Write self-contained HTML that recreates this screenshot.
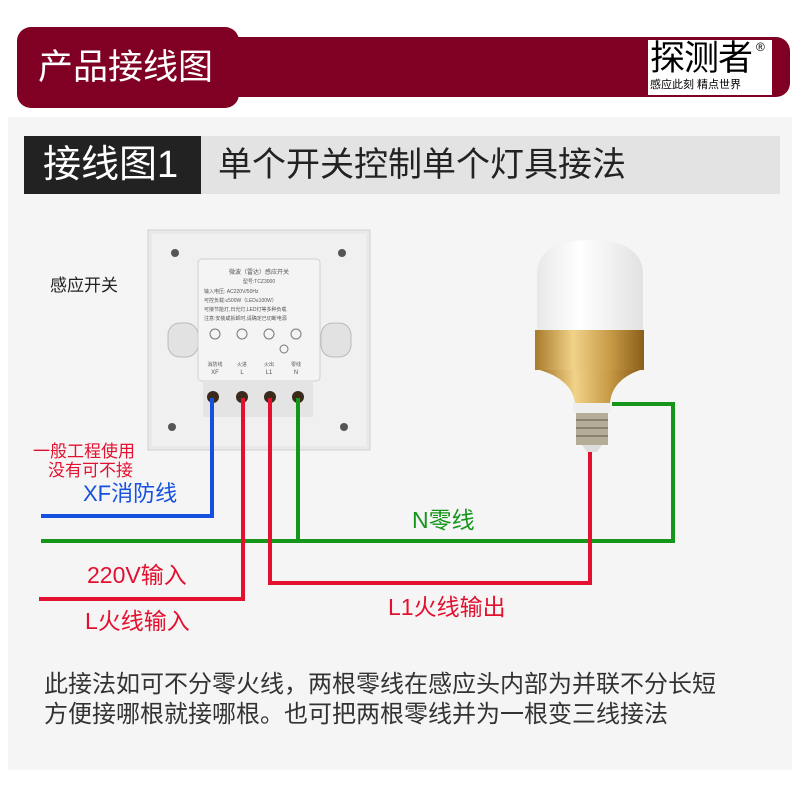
<!DOCTYPE html>
<html><head><meta charset="utf-8"><style>
*{margin:0;padding:0;box-sizing:border-box}
body{width:800px;height:800px;background:#fff;position:relative;overflow:hidden;font-family:"Liberation Sans","Noto Sans CJK SC",sans-serif}
.a{position:absolute;white-space:nowrap}
</style></head><body>
<div class="a" style="left:8px;top:117px;width:784px;height:653px;background:#f5f5f5"></div>
<!-- header -->
<div class="a" style="left:17px;top:37px;width:773px;height:60px;background:#7f0023;border-radius:14px"></div>
<div class="a" style="left:17px;top:27px;width:222px;height:81px;background:#7f0023;border-radius:14px"></div>
<div class="a" style="left:38px;top:46px;font-size:35px;color:#fff;line-height:44px">产品接线图</div>
<div class="a" style="left:648px;top:40px;width:124px;height:55px;background:#fff"></div>
<div class="a" style="left:650px;top:37px;font-size:35px;color:#000;line-height:44px;letter-spacing:-1px">探测者</div>
<div class="a" style="left:756px;top:40px;font-size:12px;color:#000">®</div>
<div class="a" style="left:650px;top:78px;font-size:11px;color:#000;line-height:14px">感应此刻 精点世界</div>
<!-- section title -->
<div class="a" style="left:24px;top:136px;width:756px;height:58px;background:#e3e3e3"></div>
<div class="a" style="left:24px;top:136px;width:177px;height:58px;background:#222"></div>
<div class="a" style="left:43px;top:141px;font-size:38px;color:#fff;line-height:48px">接线图1</div>
<div class="a" style="left:218px;top:142px;font-size:34px;color:#222;line-height:46px">单个开关控制单个灯具接法</div>
<div class="a" style="left:50px;top:271px;font-size:17px;color:#222">感应开关</div>
<!-- switch + bulb + wires -->
<svg class="a" style="left:0;top:0" width="800" height="800">
<defs>
<linearGradient id="g" x1="0" x2="1"><stop offset="0" stop-color="#a87a2a"/><stop offset=".35" stop-color="#f1d289"/><stop offset=".7" stop-color="#c69945"/><stop offset="1" stop-color="#8a5e1a"/></linearGradient>
<linearGradient id="w" x1="0" x2="1"><stop offset="0" stop-color="#e8e8e8"/><stop offset=".4" stop-color="#fff"/><stop offset="1" stop-color="#e2e2e2"/></linearGradient>
</defs>
<rect x="148" y="230" width="222" height="220" fill="#e9e9e9" stroke="#cfcfcf"/>
<rect x="152" y="234" width="214" height="212" fill="#f0f0f0"/>
<circle cx="175" cy="253" r="4" fill="#555"/><circle cx="342" cy="253" r="4" fill="#555"/>
<circle cx="172" cy="427" r="4" fill="#555"/><circle cx="344" cy="427" r="4" fill="#555"/>
<rect x="168" y="323" width="30" height="34" rx="12" fill="#e2e2e2" stroke="#bbb"/>
<rect x="321" y="323" width="30" height="34" rx="12" fill="#e2e2e2" stroke="#bbb"/>
<rect x="198" y="259" width="122" height="122" rx="4" fill="#f4f4f4" stroke="#cfcfcf"/>
<text x="259" y="274" font-size="6" text-anchor="middle" fill="#555">微波（雷达）感应开关</text>
<text x="259" y="283" font-size="5" text-anchor="middle" fill="#555">型号:TCZ3000</text>
<text x="204" y="293" font-size="5" fill="#555">输入电压: AC220V/50Hz</text>
<text x="204" y="302" font-size="5" fill="#555">可控负载:≤500W（LED≤100W）</text>
<text x="204" y="311" font-size="5" fill="#555">可接节能灯,日光灯,LED灯等多种负载</text>
<text x="204" y="320" font-size="5" fill="#555">注意:安装或拆卸时,请确定已切断电源</text>
<g fill="none" stroke="#777"><circle cx="215" cy="334" r="5"/><circle cx="242" cy="334" r="5"/><circle cx="269" cy="334" r="5"/><circle cx="296" cy="334" r="5"/><circle cx="284" cy="349" r="4"/></g>
<text x="215" y="366" font-size="5" text-anchor="middle" fill="#555">消防线</text><text x="242" y="366" font-size="5" text-anchor="middle" fill="#555">火进</text><text x="269" y="366" font-size="5" text-anchor="middle" fill="#555">火出</text><text x="296" y="366" font-size="5" text-anchor="middle" fill="#555">零线</text>
<text x="215" y="374" font-size="6" text-anchor="middle" fill="#555">XF</text><text x="242" y="374" font-size="6" text-anchor="middle" fill="#555">L</text><text x="269" y="374" font-size="6" text-anchor="middle" fill="#555">L1</text><text x="296" y="374" font-size="6" text-anchor="middle" fill="#555">N</text>
<rect x="203" y="381" width="110" height="36" fill="#e4e4e4"/>
<g fill="#3a2a1a"><circle cx="213" cy="397" r="6"/><circle cx="242" cy="397" r="6"/><circle cx="270" cy="397" r="6"/><circle cx="298" cy="397" r="6"/></g>
<!-- bulb -->
<path d="M537 330 V275 Q537 240 590 240 Q643 240 643 275 V330 Z" fill="url(#w)"/>
<rect x="535" y="330" width="109" height="40" fill="url(#g)"/>
<path d="M540 370 H640 Q612 380 610 403 H575 Q572 380 540 370 Z" fill="url(#g)"/>
<rect x="573" y="403" width="38" height="10" fill="#eee"/>
<rect x="576" y="413" width="32" height="32" fill="#b5ad98"/>
<g stroke="#8a8270" stroke-width="2"><line x1="576" y1="420" x2="608" y2="420"/><line x1="576" y1="428" x2="608" y2="428"/><line x1="576" y1="436" x2="608" y2="436"/></g>
<path d="M582 445 H602 L597 452 H587 Z" fill="#ddd"/>
<!-- wires -->
<g fill="none" stroke-width="4">
<polyline points="41,516 212,516 212,398" stroke="#1550e0"/>
<polyline points="41,541 673,541 673,404 612,404" stroke="#15951a"/>
<line x1="298" y1="398" x2="298" y2="541" stroke="#15951a"/>
<polyline points="39,599 243,599 243,398" stroke="#e3102f"/>
<polyline points="270,398 270,583 590,583 590,452" stroke="#e3102f"/>
</g>
</svg>
<div class="a" style="left:33px;top:442px;font-size:17px;color:#e3102f;line-height:19px">一般工程使用</div>
<div class="a" style="left:48px;top:461px;font-size:17px;color:#e3102f;line-height:19px">没有可不接</div>
<div class="a" style="left:83px;top:480px;font-size:22px;color:#1550e0;line-height:27px">XF消防线</div>
<div class="a" style="left:412px;top:506px;font-size:23px;color:#15951a;line-height:28px">N零线</div>
<div class="a" style="left:87px;top:561px;font-size:23px;color:#e3102f;line-height:28px">220V输入</div>
<div class="a" style="left:85px;top:607px;font-size:23px;color:#e3102f;line-height:28px">L火线输入</div>
<div class="a" style="left:388px;top:593px;font-size:23px;color:#e3102f;line-height:28px">L1火线输出</div>
<div class="a" style="left:44px;top:670px;font-size:24px;color:#333;line-height:30px">此接法如可不分零火线，两根零线在感应头内部为并联不分长短<br>方便接哪根就接哪根。也可把两根零线并为一根变三线接法</div>
</body></html>
